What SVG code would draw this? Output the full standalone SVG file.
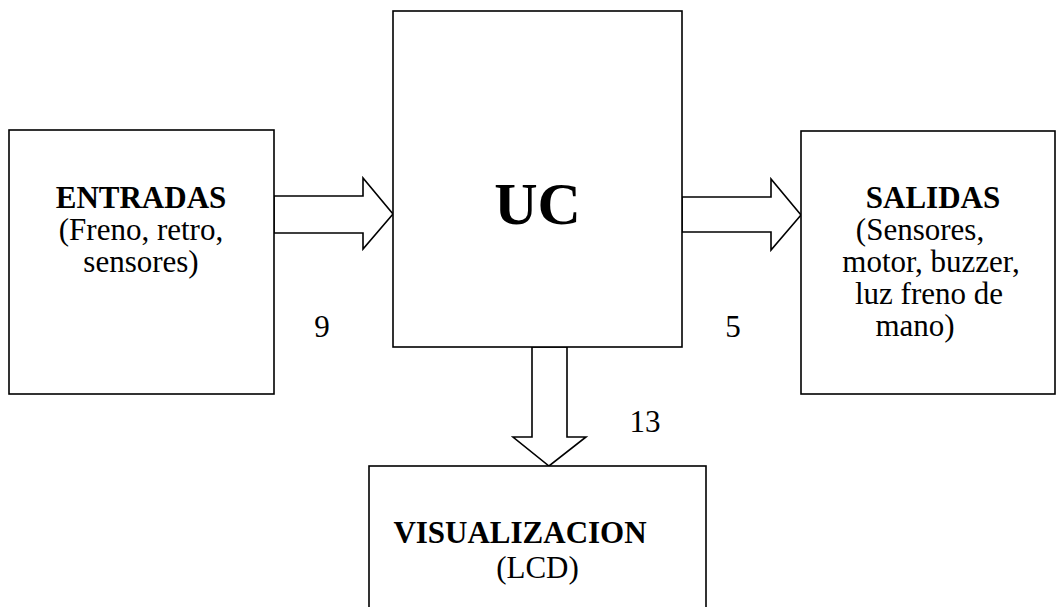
<svg xmlns="http://www.w3.org/2000/svg" width="1057" height="607" viewBox="0 0 1057 607">
  <style>
    .box { fill: #ffffff; stroke: #000000; stroke-width: 1.6; }
    .bus { fill: #ffffff; stroke: #000000; stroke-width: 1.6; stroke-linejoin: miter; }
    .t { font-size: 31px; fill: #000000; text-anchor: middle; }
    .b { font-weight: bold; }
    .big { font-size: 60px; font-weight: bold; fill: #000000; text-anchor: middle; }
  </style>
  <rect width="1057" height="607" fill="#ffffff"/>

  <g font-family="'Liberation Serif', 'DejaVu Serif', serif">
  <!-- buses between blocks -->
  <g id="connectors">
    <polygon class="bus" points="274,196 363,196 363,178 393,214 363,249 363,233 274,233"/>
    <polygon class="bus" points="682,197 771,197 771,179 801,215 771,250 771,232 682,232"/>
    <polygon class="bus" points="532,347 532,437 513,437 549,466 586,437 567,437 567,347"/>
    <text class="t" x="322" y="337">9</text>
    <text class="t" x="733" y="337">5</text>
    <text class="t" x="645" y="432">13</text>
  </g>

  <g id="entradas">
    <rect class="box" x="9" y="130" width="265" height="264"/>
    <text class="t b" x="141" y="208">ENTRADAS</text>
    <text class="t" x="141" y="240">(Freno, retro,</text>
    <text class="t" x="141" y="272">sensores)</text>
  </g>

  <g id="uc">
    <rect class="box" x="393" y="11" width="289" height="336"/>
    <text class="big" x="537.5" y="224">UC</text>
  </g>

  <g id="salidas">
    <rect class="box" x="801" y="131" width="254" height="263"/>
    <text class="t b" x="933" y="208">SALIDAS</text>
    <text class="t" x="920" y="240">(Sensores,</text>
    <text class="t" x="931" y="272">motor, buzzer,</text>
    <text class="t" x="929" y="304">luz freno de</text>
    <text class="t" x="915" y="336">mano)</text>
  </g>

  <g id="visualizacion">
    <rect class="box" x="369" y="466" width="337" height="160"/>
    <text class="t b" x="520" y="543">VISUALIZACION</text>
    <text class="t" x="537.5" y="578">(LCD)</text>
  </g>
  </g>
</svg>
